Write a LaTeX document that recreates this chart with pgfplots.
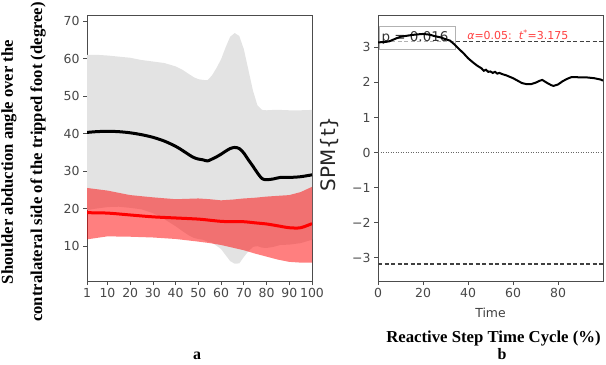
\documentclass[border=0pt]{standalone}
\usepackage{pgfplots}
\pgfplotsset{compat=1.18}
\usepackage{fontspec}
\setmainfont{Liberation Serif}
\newfontfamily\dv{DejaVu Sans}
\begin{document}
\begin{tikzpicture}[x=1bp,y=1bp]
\path[use as bounding box] (0,0) rectangle (606,364);
\pgfplotsset{
  every axis/.append style={
    scale only axis, width=225bp, height=266bp,
    axis line style={black!70, line width=0.8bp},
    tick style={black!70, line width=0.8bp},
    tick align=outside, major tick length=4bp, tick pos=left,
    tick label style={font=\dv\fontsize{12.5}{14}\selectfont, text=black!72},
    clip=true
  }
}
% ---------------- panel a ----------------
\begin{axis}[at={(87bp,83bp)}, anchor=south west,
  xmin=1, xmax=100, ymin=0.7, ymax=71.6,
  xtick={1,10,20,30,40,50,60,70,80,90,100},
  xticklabels={1,10,20,30,40,50,60,70,80,90,100},
  ytick={10,20,30,40,50,60,70},
  yticklabels={10,20,30,40,50,60,70}]
% grey band (upper then lower reversed)
\addplot[fill=gray!22, draw=none] coordinates {
 (1,61.0)(5,61.0)(10,60.8)(15,60.5)(20,60.2)(25,59.6)(30,59.2)(35,58.8)(40,57.9)(43,57.0)(46,55.8)(48,55.0)(50,54.5)(52,54.3)(54,54.2)(56,55.5)(58,57.5)(60,59.8)(62,63.0)(64,65.8)(66,66.8)(68,66.0)(70,62.5)(72,57.0)(74,51.5)(76,47.5)(78,46.3)(80,46.2)(83,46.3)(86,46.3)(90,46.2)(95,46.2)(100,46.3)
 (100,11.7)(95,10.8)(90,10.4)(86,10.3)(83,9.8)(80,9.5)(78,9.6)(76,10.0)(74,9.8)(72,8.6)(70,7.1)(68,5.4)(66,5.3)(64,6.0)(62,7.6)(60,9.2)(58,10.1)(56,10.9)(54,11.2)(52,11.7)(50,11.9)(48,12.2)(46,12.8)(43,14.0)(40,15.3)(35,17.2)(30,18.8)(25,19.8)(20,20.2)(15,20.5)(10,20.4)(5,20.0)(1,19.6)
} -- cycle;
% black mean
\addplot[black, line width=3bp, smooth] coordinates {
 (1,40.3)(5,40.5)(10,40.6)(15,40.5)(20,40.2)(25,39.7)(30,39.0)(35,38.0)(40,36.6)(43,35.5)(46,34.3)(48,33.6)(50,33.2)(52,33.0)(54,32.7)(56,33.2)(58,33.8)(60,34.5)(62,35.3)(64,36.0)(66,36.3)(68,36.0)(70,34.8)(72,33.0)(74,31.3)(76,29.5)(78,28.0)(80,27.7)(83,27.9)(86,28.3)(90,28.3)(95,28.5)(100,29.0)
};
% red band
\addplot[fill=red, fill opacity=0.5, draw=none] coordinates {
 (1,25.5)(10,24.8)(20,23.6)(30,23.0)(40,22.5)(50,22.7)(55,22.5)(60,22.2)(65,22.4)(70,22.7)(75,22.9)(80,23.2)(85,23.4)(90,23.6)(95,24.4)(100,25.8)
 (100,5.6)(95,5.6)(90,5.8)(85,6.4)(80,7.2)(75,8.0)(70,8.9)(65,9.6)(60,10.3)(55,10.8)(50,11.2)(40,11.9)(30,12.3)(20,12.5)(10,12.6)(1,11.8)
} -- cycle;
% red mean
\addplot[red, line width=3bp, smooth] coordinates {
 (1,18.9)(10,18.8)(20,18.3)(30,17.8)(40,17.5)(50,17.2)(55,16.9)(60,16.6)(65,16.5)(70,16.5)(75,16.2)(80,15.9)(85,15.4)(90,14.9)(95,14.9)(100,16.0)
};
\end{axis}
% ---------------- panel b ----------------
\begin{axis}[at={(378bp,83bp)}, anchor=south west,
  xmin=0, xmax=100, ymin=-3.66, ymax=3.92,
  xtick={0,20,40,60,80}, xticklabels={0,20,40,60,80},
  ytick={-3,-2,-1,0,1,2,3},
  yticklabels={−3,−2,−1,0,1,2,3}]
\addplot[black!75, line width=1.2bp, dash pattern=on 4bp off 2.5bp] coordinates {(0,3.175)(100,3.175)};
\addplot[black!75, line width=1.2bp, dash pattern=on 4bp off 2.5bp] coordinates {(0,-3.175)(100,-3.175)};
\addplot[black!60, line width=0.8bp, dash pattern=on 1bp off 1.5bp] coordinates {(0,0)(100,0)};
\draw[black!30, line width=0.8bp, fill=white, fill opacity=0.6] (axis cs:0.5,2.94) rectangle (axis cs:34.5,3.6);
\node[anchor=west, inner sep=0pt, text=black!80, font=\dv\fontsize{13.5}{15}\selectfont] at (axis cs:1.5,3.27) {p = 0.016};
\node[anchor=west, inner sep=0pt, text=red!75, font=\dv\fontsize{11}{12}\selectfont] at (axis cs:39.6,3.36) {\textit{α}=0.05:\ \ \textit{t}\textsuperscript{*}=3.175};
\addplot[black, line width=2bp] coordinates {
 (0,3.14)(3,3.15)(5,3.17)(8,3.25)(10,3.30)(13,3.33)(15,3.35)(18,3.37)(20,3.38)(23,3.36)(25,3.32)(28,3.28)(30,3.23)(32,3.19)(34,3.08)(36,2.95)(38,2.83)(40,2.69)(42,2.58)(44,2.48)(46,2.40)(47,2.33)(48,2.36)(49,2.30)(50,2.31)(51,2.27)(52,2.30)(53,2.25)(54,2.27)(55,2.24)(57,2.20)(60,2.12)(62,2.05)(64,1.98)(66,1.95)(68,1.95)(70,1.99)(72,2.05)(73,2.07)(75,1.99)(77,1.92)(78,1.90)(80,1.94)(82,2.03)(84,2.10)(86,2.15)(88,2.15)(90,2.14)(93,2.14)(96,2.12)(99,2.08)(100,2.05)
};
\end{axis}
% ---------------- labels ----------------
\node[rotate=90, font=\bfseries\fontsize{16.7}{18}\selectfont] at (9,202) {Shoulder abduction angle over the};
\node[rotate=90, font=\bfseries\fontsize{16.7}{18}\selectfont] at (38,202) {contralateral side of the tripped foot (degree)};
\node[rotate=90, font=\dv\fontsize{20}{22}\selectfont, text=black!85] at (330,210) {SPM\{t\}};
\node[font=\dv\fontsize{12.5}{14}\selectfont, text=black!75] at (490.5,51) {Time};
\node[anchor=base, font=\bfseries\fontsize{16.8}{18}\selectfont] at (493.5,22) {Reactive Step Time Cycle (\%)};
\node[anchor=base, font=\bfseries\fontsize{16}{18}\selectfont] at (197,5) {a};
\node[anchor=base, font=\bfseries\fontsize{16}{18}\selectfont] at (502,5) {b};
\end{tikzpicture}
\end{document}
